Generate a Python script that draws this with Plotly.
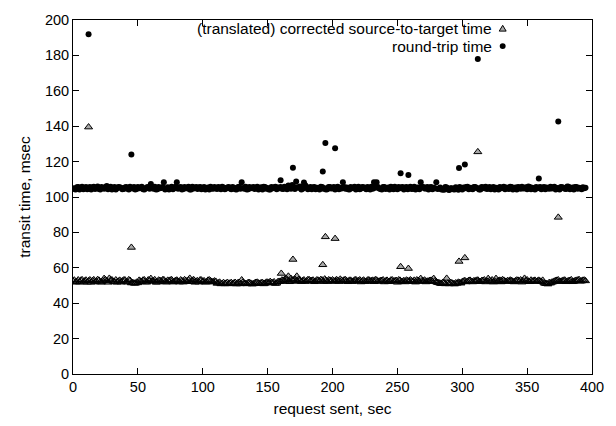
import plotly.graph_objects as go

# ---------------- data ----------------
# requests sent at even seconds
request_sent_even = [
    0, 2, 4, 6, 8, 10, 12, 14, 16, 18, 20, 22, 24, 26, 28, 30, 32, 34, 36, 38,
    40, 42, 44, 46, 48, 50, 52, 54, 56, 58, 60, 62, 64, 66, 68, 70, 72, 74, 76, 78,
    80, 82, 84, 86, 88, 90, 92, 94, 96, 98, 100, 102, 104, 106, 108, 110, 112, 114, 116, 118,
    120, 122, 124, 126, 128, 130, 132, 134, 136, 138, 140, 142, 144, 146, 148, 150, 152, 154, 156, 158,
    160, 162, 164, 166, 168, 170, 172, 174, 176, 178, 180, 182, 184, 186, 188, 190, 192, 194, 196, 198,
    200, 202, 204, 206, 208, 210, 212, 214, 216, 218, 220, 222, 224, 226, 228, 230, 232, 234, 236, 238,
    240, 242, 244, 246, 248, 250, 252, 254, 256, 258, 260, 262, 264, 266, 268, 270, 272, 274, 276, 278,
    280, 282, 284, 286, 288, 290, 292, 294, 296, 298, 300, 302, 304, 306, 308, 310, 312, 314, 316, 318,
    320, 322, 324, 326, 328, 330, 332, 334, 336, 338, 340, 342, 344, 346, 348, 350, 352, 354, 356, 358,
    360, 362, 364, 366, 368, 370, 372, 374, 376, 378, 380, 382, 384, 386, 388, 390, 392, 394,
]
# requests sent at odd seconds
request_sent_odd = [
    1, 3, 5, 7, 9, 11, 13, 15, 17, 19, 21, 23, 25, 27, 29, 31, 33, 35, 37, 39,
    41, 43, 45, 47, 49, 51, 53, 55, 57, 59, 61, 63, 65, 67, 69, 71, 73, 75, 77, 79,
    81, 83, 85, 87, 89, 91, 93, 95, 97, 99, 101, 103, 105, 107, 109, 111, 113, 115, 117, 119,
    121, 123, 125, 127, 129, 131, 133, 135, 137, 139, 141, 143, 145, 147, 149, 151, 153, 155, 157, 159,
    161, 163, 165, 167, 169, 171, 173, 175, 177, 179, 181, 183, 185, 187, 189, 191, 193, 195, 197, 199,
    201, 203, 205, 207, 209, 211, 213, 215, 217, 219, 221, 223, 225, 227, 229, 231, 233, 235, 237, 239,
    241, 243, 245, 247, 249, 251, 253, 255, 257, 259, 261, 263, 265, 267, 269, 271, 273, 275, 277, 279,
    281, 283, 285, 287, 289, 291, 293, 295, 297, 299, 301, 303, 305, 307, 309, 311, 313, 315, 317, 319,
    321, 323, 325, 327, 329, 331, 333, 335, 337, 339, 341, 343, 345, 347, 349, 351, 353, 355, 357, 359,
    361, 363, 365, 367, 369, 371, 373, 375, 377, 379, 381, 383, 385, 387, 389, 391, 393, 395,
]

round_trip_even = [
    105.0, 104.3, 105.7, 105.2, 104.4, 105.6, 104.8, 104.2, 105.8, 105.1, 104.5, 105.6, 104.7, 106.2, 105.4, 104.3, 105.7, 104.9, 105.5, 104.4,
    105.3, 104.6, 105.8, 104.8, 104.3, 105.6, 105.2, 104.4, 105.0, 105.7, 107.3, 104.6, 104.2, 105.6, 105.1, 108.3, 104.7, 104.3, 105.8, 104.9,
    108.3, 105.4, 104.3, 105.7, 104.9, 104.2, 105.8, 105.2, 104.5, 105.6, 104.8, 104.3, 105.4, 105.8, 104.6, 105.0, 105.7, 104.4, 105.3, 104.8,
    105.6, 104.4, 105.2, 104.2, 105.8, 108.3, 104.7, 104.3, 105.6, 105.2, 104.5, 105.8, 104.9, 104.3, 105.6, 105.1, 104.2, 104.9, 105.8, 105.3,
    105.7, 104.5, 105.4, 106.5, 104.7, 105.8, 108.8, 105.2, 104.3, 108.2, 105.6, 104.8, 104.4, 105.7, 105.2, 104.3, 105.6, 104.9, 104.4, 105.7,
    104.9, 104.3, 105.8, 105.2, 108.3, 104.7, 104.4, 105.6, 105.1, 104.2, 105.8, 104.8, 105.5, 104.4, 105.2, 105.8, 108.3, 108.3, 104.8, 104.3,
    105.6, 104.9, 104.3, 105.3, 105.8, 104.4, 104.9, 105.7, 105.2, 104.4, 105.8, 104.7, 104.3, 105.4, 108.3, 105.6, 104.8, 104.3, 105.7, 105.2,
    108.3, 104.8, 104.2, 104.1, 105.4, 104.0, 105.0, 104.2, 104.5, 105.6, 104.3, 104.9, 105.8, 105.2, 104.4, 105.6, 104.9, 104.3, 105.3, 105.8,
    104.8, 104.4, 105.7, 105.2, 104.3, 104.9, 105.8, 105.3, 104.5, 105.6, 104.8, 104.2, 105.4, 105.8, 104.9, 104.4, 105.7, 105.2, 104.3, 104.9,
    105.6, 105.2, 104.4, 104.9, 105.8, 105.3, 104.2, 104.9, 105.7, 105.2, 104.5, 105.8, 104.8, 104.3, 105.6, 105.2, 104.4, 104.9,
]
round_trip_odd = [
    104.6, 105.5, 104.2, 105.8, 105.0, 104.4, 105.7, 105.3, 104.5, 105.9, 104.3, 105.1, 105.6, 104.4, 105.8, 104.9, 104.3, 105.6, 105.2, 104.5,
    105.7, 104.3, 105.1, 105.6, 104.5, 104.9, 105.8, 104.2, 105.5, 104.7, 105.3, 105.8, 104.4, 104.9, 105.7, 104.3, 105.5, 105.0, 104.4, 105.8,
    104.7, 105.6, 104.5, 105.0, 105.8, 104.3, 104.8, 105.7, 105.3, 104.4, 105.6, 105.1, 104.3, 104.8, 105.7, 104.5, 105.2, 105.8, 104.4, 105.3,
    104.8, 105.7, 104.4, 105.5, 104.6, 105.1, 105.8, 104.4, 104.9, 105.7, 105.2, 104.3, 105.5, 105.8, 104.6, 104.3, 105.6, 105.3, 104.4, 105.0,
    104.6, 105.8, 104.4, 105.2, 106.8, 104.5, 105.5, 105.9, 104.6, 106.7, 104.4, 105.7, 105.3, 104.4, 105.0, 105.8, 104.6, 104.3, 105.6, 104.8,
    105.6, 105.2, 104.4, 104.8, 105.7, 105.3, 104.3, 105.0, 105.8, 104.6, 104.4, 105.6, 104.9, 105.7, 104.3, 104.6, 105.2, 105.7, 104.5, 105.6,
    104.5, 105.4, 105.8, 104.4, 104.9, 105.6, 105.3, 104.3, 105.7, 105.0, 104.5, 105.8, 105.2, 104.4, 105.6, 104.8, 105.7, 105.3, 104.4, 105.0,
    104.5, 105.3, 104.3, 105.6, 104.2, 104.9, 104.4, 105.5, 104.1, 104.6, 105.4, 105.7, 104.4, 104.8, 105.6, 105.1, 104.3, 105.7, 104.9, 104.5,
    105.6, 105.1, 104.3, 104.8, 105.7, 105.2, 104.4, 104.9, 105.8, 104.3, 105.4, 105.7, 104.6, 104.8, 105.5, 105.9, 104.4, 104.7, 105.6, 105.2,
    104.4, 105.7, 105.3, 104.6, 104.8, 105.8, 105.1, 104.3, 105.5, 104.7, 105.9, 104.4, 105.3, 105.7, 104.6, 104.9, 105.5, 105.2,
]

source_target_even = [
    52.4, 51.8, 53.1, 52.9, 51.9, 53.0, 52.6, 51.8, 53.2, 52.3, 52.9, 51.9, 53.9, 52.6, 54.0, 53.1, 52.0, 51.8, 52.9, 52.5,
    53.1, 51.9, 52.8, 51.6, 51.2, 51.5, 52.4, 53.0, 51.9, 53.1, 53.9, 52.5, 51.8, 53.0, 52.3, 53.2, 51.9, 52.6, 53.2, 52.2,
    53.0, 51.9, 52.6, 53.2, 52.1, 54.0, 52.9, 51.8, 52.6, 53.1, 52.2, 51.8, 52.9, 52.6, 51.9, 52.3, 51.4, 50.9, 51.6, 51.2,
    50.9, 51.6, 51.3, 50.8, 51.7, 53.1, 51.2, 50.9, 51.6, 50.8, 51.3, 51.8, 51.0, 51.6, 51.2, 51.8, 52.2, 51.5, 51.1, 52.1,
    52.2, 52.9, 54.0, 52.4, 53.9, 53.0, 52.6, 53.4, 52.2, 53.1, 52.5, 53.2, 52.8, 52.1, 53.1, 52.4, 53.0, 53.6, 52.2, 52.9,
    53.1, 52.3, 52.9, 53.5, 52.4, 53.2, 52.1, 52.9, 52.4, 53.2, 52.7, 52.0, 53.0, 52.3, 53.1, 52.6, 52.1, 53.0, 52.4, 52.8,
    52.0, 52.9, 52.3, 53.1, 52.5, 51.8, 52.9, 52.3, 52.0, 52.7, 53.1, 52.2, 51.9, 52.8, 53.9, 52.5, 52.0, 52.4, 52.9, 53.9,
    52.0, 51.5, 51.0, 51.4, 54.0, 50.9, 51.4, 50.8, 51.2, 51.6, 52.1, 52.7, 52.2, 52.9, 52.0, 52.5, 53.0, 52.1, 52.8, 52.0,
    53.9, 52.3, 51.9, 53.9, 52.7, 52.0, 52.9, 52.3, 52.4, 52.8, 52.0, 53.0, 52.4, 51.9, 54.0, 53.1, 52.1, 52.4, 52.9, 52.5,
    52.4, 52.9, 51.1, 50.8, 51.3, 52.0, 52.7, 53.1, 52.3, 52.9, 52.1, 52.6, 53.2, 52.3, 52.9, 53.3, 52.5, 53.0,
]
source_target_odd = [
    53.0, 52.2, 51.9, 53.2, 52.5, 51.8, 53.1, 52.7, 52.0, 53.3, 51.9, 52.6, 53.2, 51.8, 52.9, 52.3, 53.1, 52.4, 51.9, 53.0,
    52.0, 53.2, 51.4, 51.3, 51.8, 52.9, 52.2, 53.1, 51.9, 52.7, 52.4, 53.2, 51.9, 52.8, 53.1, 52.0, 52.9, 53.0, 51.9, 52.8,
    52.3, 53.1, 51.9, 52.7, 53.0, 52.1, 53.2, 52.4, 51.9, 53.0, 52.6, 52.0, 53.1, 52.2, 52.5, 51.2, 51.8, 51.0, 50.9, 51.7,
    51.3, 51.0, 51.7, 51.4, 50.9, 51.8, 51.1, 51.6, 51.2, 50.9, 51.7, 51.3, 51.5, 50.9, 51.8, 51.4, 51.6, 52.0, 51.3, 52.3,
    53.0, 52.4, 53.2, 52.1, 52.9, 53.5, 52.3, 53.0, 52.7, 52.2, 53.2, 52.6, 53.0, 52.4, 52.9, 53.3, 52.2, 52.8, 53.1, 52.4,
    52.6, 53.2, 52.2, 52.8, 53.1, 52.5, 52.9, 52.2, 53.0, 52.4, 53.1, 52.6, 52.2, 53.0, 52.5, 52.9, 53.2, 52.3, 52.7, 53.1,
    52.5, 52.1, 53.0, 52.4, 52.8, 53.1, 52.2, 52.7, 53.0, 52.3, 52.6, 52.9, 53.1, 52.2, 52.6, 53.0, 52.4, 52.8, 52.2, 52.6,
    51.6, 51.2, 51.7, 50.9, 51.3, 51.6, 51.0, 51.4, 51.8, 51.3, 52.4, 52.0, 52.8, 52.3, 52.6, 52.9, 52.3, 52.7, 53.1, 52.4,
    52.6, 53.1, 52.4, 52.2, 52.9, 53.2, 52.3, 52.7, 53.0, 52.2, 52.6, 52.9, 53.1, 52.4, 52.7, 52.3, 53.0, 52.6, 52.2, 52.9,
    52.1, 51.4, 51.0, 51.6, 51.8, 52.4, 52.9, 52.2, 52.6, 53.0, 52.4, 52.8, 52.1, 52.7, 53.0, 52.4, 52.9, 52.6,
]

# outliers (request time, transit time)
round_trip_out_x = [12, 45, 160, 169.5, 192.5, 194.5, 202, 252.5, 258.5, 297.5, 302, 312, 359, 374]
round_trip_out_y = [192, 124, 109.5, 116.5, 114.4, 130.5, 127.5, 113.4, 112.4, 116.4, 118.4, 178, 110.4, 142.6]

source_target_out_x = [12, 45, 160.5, 166, 172.5, 169.5, 192.5, 194.5, 202, 252.5, 258.5, 297.5, 302, 312, 374]
source_target_out_y = [139.5, 71.5, 56.8, 55.2, 55.2, 64.7, 61.7, 77.5, 76.5, 60.6, 59.6, 63.6, 65.6, 125.5, 88.5]

legend_labels = ["(translated) corrected source-to-target time", "round-trip time"]
x_ticks = [0, 50, 100, 150, 200, 250, 300, 350, 400]
y_ticks = [0, 20, 40, 60, 80, 100, 120, 140, 160, 180, 200]

assert len(request_sent_even) == len(round_trip_even) == len(source_target_even)
assert len(request_sent_odd) == len(round_trip_odd) == len(source_target_odd)

# ---------------- figure ----------------
FONT = "Liberation Sans, Arial, Helvetica, sans-serif"
TRI_FILL = "#a8a8a8"

st_x = request_sent_even + request_sent_odd + source_target_out_x
st_y = source_target_even + source_target_odd + source_target_out_y
rt_x = request_sent_even + request_sent_odd + round_trip_out_x
rt_y = round_trip_even + round_trip_odd + round_trip_out_y

fig = go.Figure()
# source-to-target: gray fills first, then black outlines on top (gnuplot-like layering)
fig.add_trace(go.Scatter(
    x=st_x, y=st_y, mode="markers", name=legend_labels[0], showlegend=False,
    marker=dict(symbol="triangle-up", size=7, color=TRI_FILL, line=dict(width=0)),
    hoverinfo="skip",
))
fig.add_trace(go.Scatter(
    x=st_x, y=st_y, mode="markers", name=legend_labels[0], showlegend=False,
    marker=dict(symbol="triangle-up-open", size=7, color="black",
                line=dict(color="black", width=1)),
))
fig.add_trace(go.Scatter(
    x=rt_x, y=rt_y, mode="markers", name=legend_labels[1], showlegend=False,
    marker=dict(symbol="circle", size=6, color="black", line=dict(width=0)),
))

W, H = 616, 426
ML, MR, MT, MB = 73, 20, 13, 47
PW, PH = W - ML - MR, H - MT - MB


def px_to_paper(px, py):
    return (px - ML) / PW, (H - MB - py) / PH


# custom legend (text right, symbol to the right of it)
text_right_px = 497
sym_px = 506
rows_py = [22, 40]
annotations = []
shapes = []
for label, py in zip(legend_labels, rows_py):
    ax, ay = px_to_paper(text_right_px, py)
    annotations.append(dict(x=ax, y=ay, xref="paper", yref="paper", text=label,
                            showarrow=False, xanchor="right", yanchor="middle",
                            font=dict(family=FONT, size=15.5, color="black")))
# triangle symbol
p1 = px_to_paper(sym_px, rows_py[0] - 3.5)
p2 = px_to_paper(sym_px - 3.5, rows_py[0] + 2.5)
p3 = px_to_paper(sym_px + 3.5, rows_py[0] + 2.5)
shapes.append(dict(type="path", xref="paper", yref="paper",
                   path=f"M {p1[0]},{p1[1]} L {p2[0]},{p2[1]} L {p3[0]},{p3[1]} Z",
                   fillcolor=TRI_FILL, line=dict(color="black", width=1)))
# circle symbol
c0 = px_to_paper(sym_px - 3, rows_py[1] + 3)
c1 = px_to_paper(sym_px + 3, rows_py[1] - 3)
shapes.append(dict(type="circle", xref="paper", yref="paper",
                   x0=c0[0], y0=c0[1], x1=c1[0], y1=c1[1],
                   fillcolor="black", line=dict(color="black", width=0)))

axis_common = dict(showgrid=False, zeroline=False, showline=True, linecolor="black",
                   linewidth=1, mirror="allticks", ticks="inside", ticklen=6,
                   tickcolor="black", tickwidth=1,
                   tickfont=dict(family=FONT, size=14.5, color="black"))

fig.update_layout(
    width=W, height=H,
    margin=dict(l=ML, r=MR, t=MT, b=MB, pad=0),
    paper_bgcolor="white", plot_bgcolor="white",
    font=dict(family=FONT, size=14, color="black"),
    xaxis=dict(range=[0, 400], tickvals=x_ticks, ticktext=[str(v) for v in x_ticks],
               title=dict(text="request sent, sec", standoff=8,
                          font=dict(family=FONT, size=15.5)), **axis_common),
    yaxis=dict(range=[0, 200], tickvals=y_ticks, ticktext=[str(v) for v in y_ticks],
               title=dict(text="transit time, msec", standoff=10,
                          font=dict(family=FONT, size=15.5)), **axis_common),
    annotations=annotations, shapes=shapes,
)

fig.write_html("out.html")
